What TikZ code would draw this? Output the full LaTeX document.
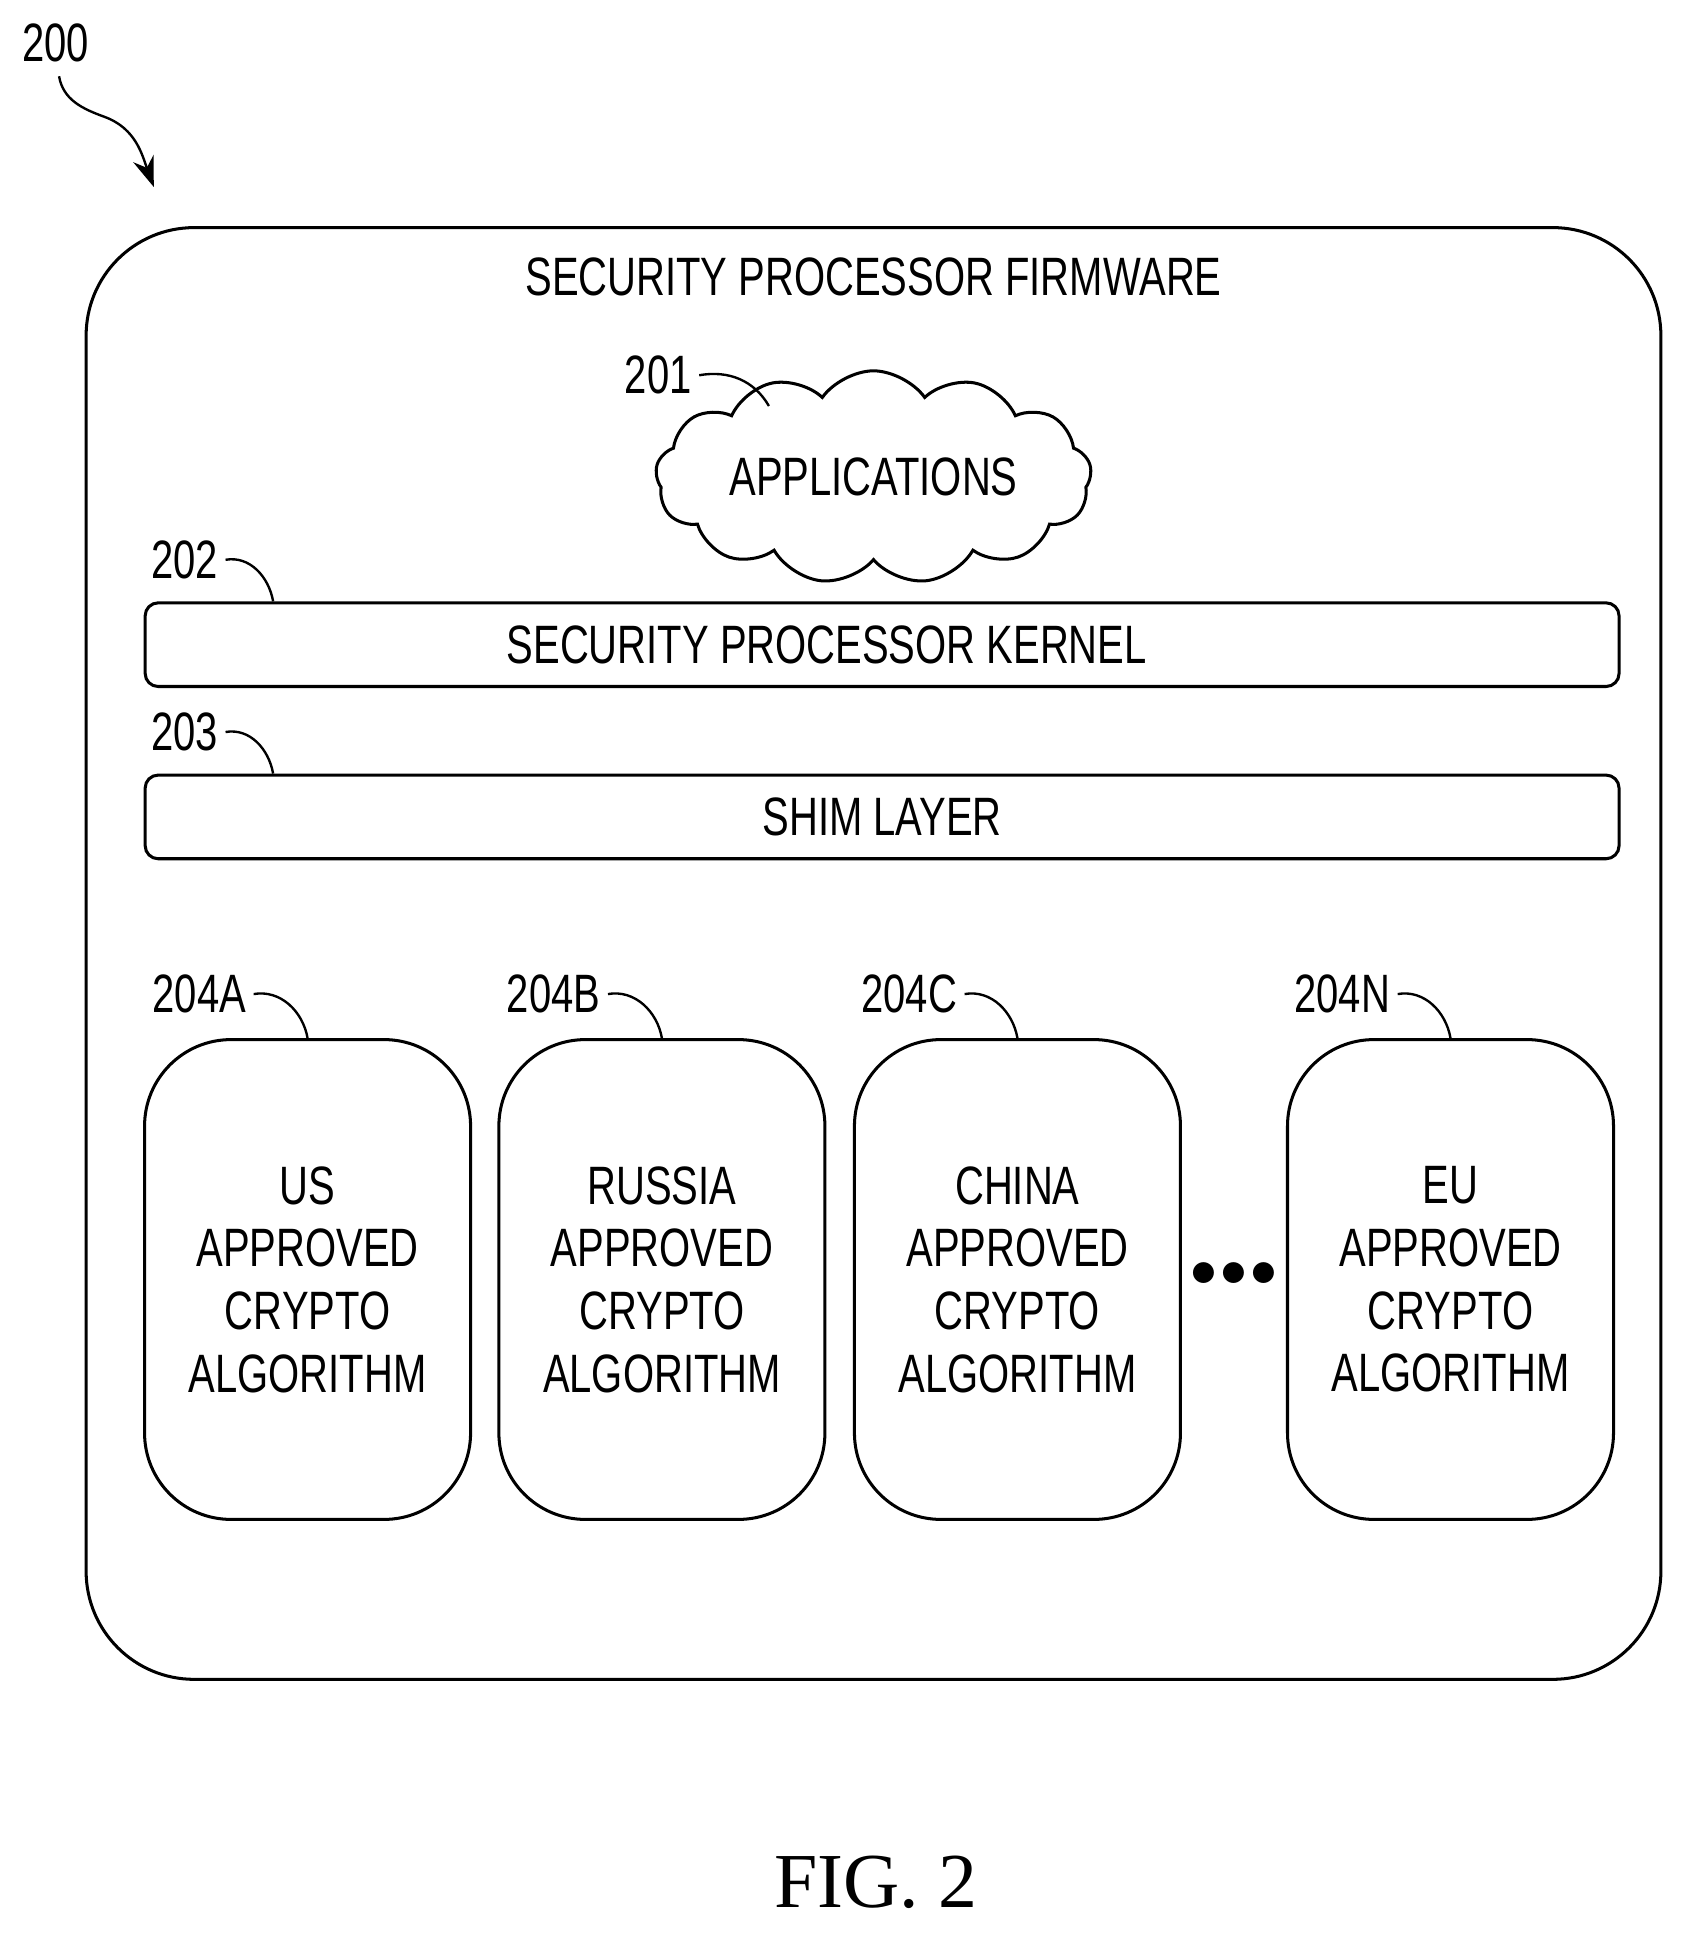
\documentclass[tikz,border=0pt]{standalone}
\usepackage{fontspec}
\setmainfont[FakeStretch=0.74]{Liberation Sans}
\newfontfamily\figfont{Liberation Serif}
\usetikzlibrary{arrows.meta,shapes.symbols,positioning}
\tikzset{
  box/.style={draw,line width=1.4pt,rounded corners=#1},
  lbl/.style={font=\fontsize{25}{29}\selectfont},
  lead/.style={line width=1.1pt},
}
\begin{document}
\begin{tikzpicture}[x=0.02cm,y=-0.02cm]
    \useasboundingbox (0,0) rectangle (1370,1572);
    %    outer firmware block

    \node[box=50pt,minimum width=1280*0.02cm,minimum height=1180*0.02cm] (Fw) at (710,775) {};
    \node[lbl] (FwTxt) at (710,225) {SECURITY PROCESSOR FIRMWARE};
    \node[lbl] (Ref200) at (45,35) {200};
    \coordinate (Ref200End) at (125,152);
    \draw[lead,-{Stealth[length=14pt,width=10pt]}] (48,62) to[out=-80,in=160] (85,95) to[out=-20,in=110] (Ref200End);

    \node[cloud,draw,line width=1.4pt,cloud puffs=13,cloud puff arc=110,aspect=2.6,minimum width=330*0.02cm,minimum height=125*0.02cm,lbl] (App) at (710,388) {APPLICATIONS};
    \node[lbl] (Ref201) at (535,305) {201};
    \draw[lead] (Ref201.east) to[out=10,in=120] (625,330);

    \node[box=6pt,minimum width=1198*0.02cm,minimum height=68*0.02cm] (Kern) at (717,524) {};
    \node[lbl] at (672,524) {SECURITY PROCESSOR KERNEL};
    \node[lbl] (Ref202) at (150,455) {202};
    \draw[lead] (Ref202.east) to[out=10,in=100] (Kern.north west -| 222,0);

    \node[box=6pt,minimum width=1198*0.02cm,minimum height=68*0.02cm,lbl] (Shim) at (717,664) {SHIM LAYER};
    \node[lbl] (Ref203) at (150,595) {203};
    \draw[lead] (Ref203.east) to[out=10,in=100] (Shim.north west -| 222,0);

    \foreach \name/\cx/\txt in {A/250/US,B/538/RUSSIA,C/827/CHINA,N/1179/EU}{
      \node[box=40pt,minimum width=265*0.02cm,minimum height=390*0.02cm] (Alg\name) at (\cx,1040) {};
      \node[lbl,align=center] at (\cx,1040) {\txt\\APPROVED\\CRYPTO\\ALGORITHM};
      \node[lbl] (Ref204\name) at (\cx-88,808) {204\name};
      \draw[lead] (Ref204\name.east) to[out=10,in=100] (Alg\name.north);
    }
    \node[lbl] (Dots) at (1003,1036) {$\bullet\!\bullet\!\bullet$};

    \node[font=\figfont\fontsize{36}{40}\selectfont] (Fig) at (712,1530) {FIG. 2};
\end{tikzpicture}
\end{document}
